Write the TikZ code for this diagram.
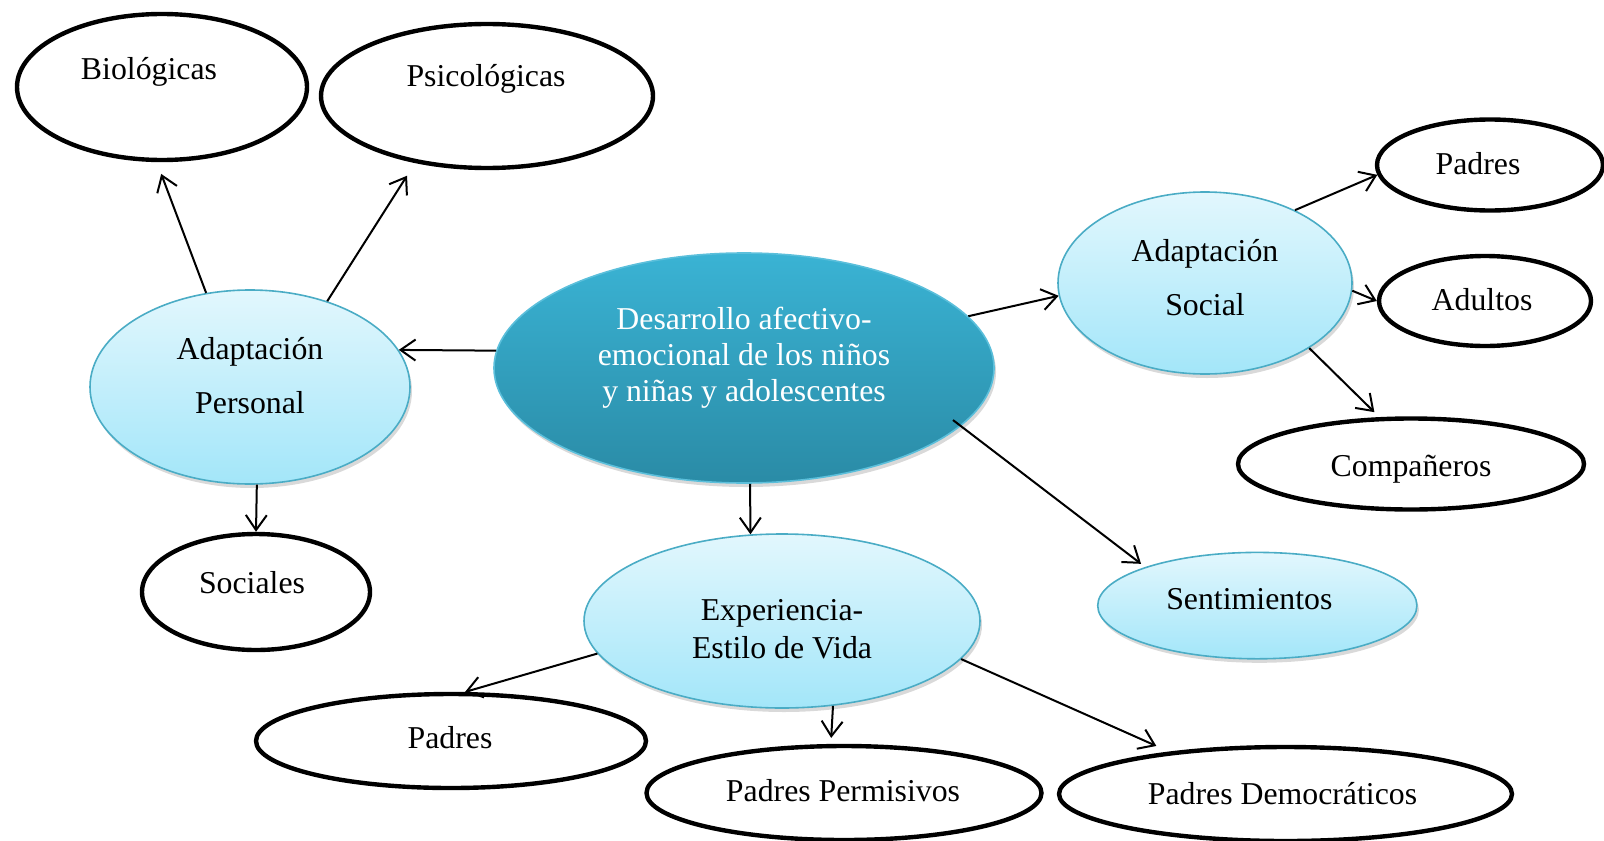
\documentclass[tikz,border=0pt]{standalone}
\usepackage{fontspec}
\setmainfont{Liberation Serif}
\usetikzlibrary{shapes.geometric,arrows.meta,shadows}
\definecolor{lbtop}{HTML}{E2F7FD}
\definecolor{lbbot}{HTML}{A3E6F9}
\definecolor{lbline}{HTML}{4AACC5}
\definecolor{ctop}{HTML}{3AB3D4}
\definecolor{cbot}{HTML}{2A8BA6}
\definecolor{cline}{HTML}{5BBFDB}
\newcommand\tx[3]{\makebox[0pt]{\hspace*{#1}\raisebox{#2}[0pt][0pt]{\begin{tabular}{@{}c@{}}#3\end{tabular}}}}
\begin{document}
\begin{tikzpicture}[x=0.5pt,y=-0.5pt,
  every node/.style={font=\fontsize{15.9}{18}\selectfont, inner sep=0pt},
  ob/.style={ellipse, draw=black, line width=2.2pt, fill=white},
  lb/.style={ellipse, draw=lbline, line width=0.8pt, top color=lbtop, bottom color=lbbot,
     drop shadow={shadow xshift=1pt, shadow yshift=-2pt, opacity=0.3}},
  cb/.style={ellipse, draw=cline, line width=0.8pt, top color=ctop, bottom color=cbot, text=white,
     drop shadow={shadow xshift=1pt, shadow yshift=-2pt, opacity=0.3}},
  arr/.style={-{Straight Barb[length=7.5pt,width=10.5pt]}, line width=1pt}]
\clip (0,0) rectangle (1604,840);
% outlined ellipses
\node[ob, minimum width=145pt, minimum height=73pt] (bio) at (162,87) {\tx{-13pt}{3.2pt}{Biológicas}};
\node[ob, minimum width=166pt, minimum height=72pt] (psi) at (487,96) {\tx{-1pt}{4pt}{Psicológicas}};
\node[ob, minimum width=113pt, minimum height=45.5pt] (padtr) at (1490,165) {\tx{-12pt}{-5.3pt}{Padres}};
\node[ob, minimum width=106pt, minimum height=45pt] (adu) at (1485,301) {\tx{-3pt}{-5.3pt}{Adultos}};
\node[ob, minimum width=173pt, minimum height=45.5pt] (comp) at (1411,464) {\tx{0pt}{-7pt}{Compañeros}};
\node[ob, minimum width=114pt, minimum height=58pt] (soc) at (256,592) {\tx{-4pt}{-1.6pt}{Sociales}};
\node[ob, minimum width=195pt, minimum height=47pt] (padb) at (451,741) {\tx{-1pt}{-4.5pt}{Padres}};
\node[ob, minimum width=197.5pt, minimum height=47pt] (perm) at (844,793) {\tx{-1pt}{-5.2pt}{Padres Permisivos}};
\node[ob, minimum width=226.5pt, minimum height=47pt] (dem) at (1285.5,794) {\tx{-3pt}{-5.8pt}{Padres Democráticos}};
% blue ellipses
\node[cb, minimum width=250pt, minimum height=115pt] (c) at (744,368) {\tx{0pt}{0.5pt}{Desarrollo afectivo-\\emocional de los niños\\y niñas y adolescentes}};
\node[lb, minimum width=160pt, minimum height=97pt] (ap) at (250,387) {\tx{0pt}{-0.5pt}{Adaptación\\[9pt]Personal}};
\node[lb, minimum width=147pt, minimum height=91pt] (as) at (1205,283) {\tx{0pt}{-3.5pt}{Adaptación\\[9pt]Social}};
\node[lb, minimum width=198pt, minimum height=87pt] (exp) at (782,621) {\tx{0pt}{-10pt}{Experiencia-\\[1pt]Estilo de Vida}};
\node[lb, minimum width=159.6pt, minimum height=53.2pt] (sent) at (1257.3,605.6) {\tx{-8pt}{-2.5pt}{Sentimientos}};
% connectors
\draw[arr] (c.176) -- (ap.14);
\draw[arr, shorten >=6.3pt] (ap.115) -- (bio.-94);
\draw[arr, shorten >=7.5pt] (ap.48) -- (psi.223);
\draw[arr] (ap.-86) -- (soc.90);
\draw[arr] (c.-87) -- (exp.110);
\draw[arr] (c.13) -- (as.185);
\draw[arr, shorten <=-5pt, shorten >=2.6pt] (c.-15) -- (sent.161);
\draw[arr] (as.39) -- (padtr.185);
\draw[arr] (as.-3) -- (adu.180);
\draw[arr, shorten >=3.5pt] (as.-32) -- (comp.124);
\draw[arr] (exp.190) -- (padb.74);
\draw[arr, shorten >=3pt] (exp.-59) -- (perm.105);
\draw[arr, shorten >=7pt] (exp.-12) -- (dem.160);
\end{tikzpicture}
\end{document}
